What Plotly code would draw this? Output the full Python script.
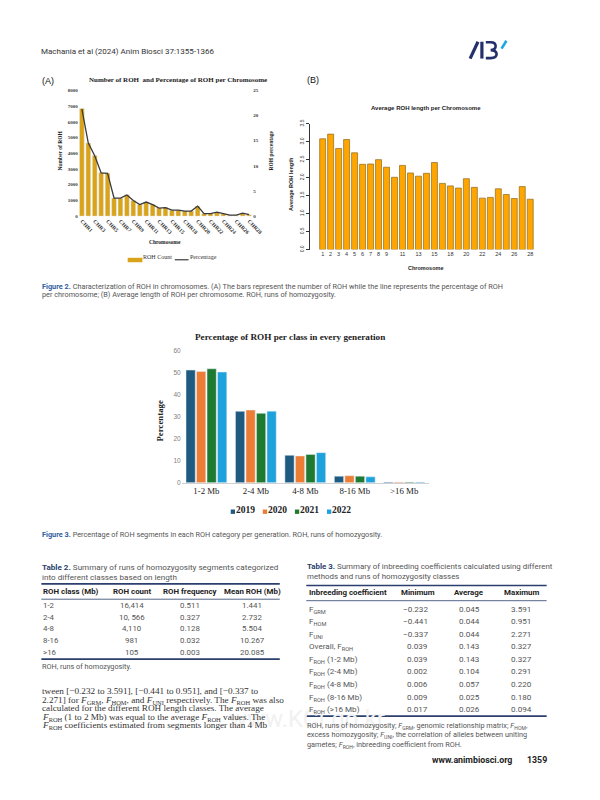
import plotly.graph_objects as go

# The page body has an 8px margin on every side: the figure is 584x784 so the page is exactly 600x800.
OFF = 8
FW, FH = 600 - 2 * OFF, 800 - 2 * OFF
def X(p): return (p - OFF) / FW
def Y(p): return 1 - (p - OFF) / FH

SERIF = "Liberation Serif"
SANS = "Liberation Sans"
PAGE = "Roboto"

# ---------------- data ----------------
CHROM = ["1", "2", "3", "4", "5", "6", "7", "8", "9", "10", "11", "12", "13", "14",
         "15", "16", "18", "19", "20", "21", "22", "23", "24", "25", "26", "27", "28"]
ROH_COUNT = [6850, 4655, 3850, 2780, 2735, 1150, 1150, 1360, 1000, 750, 900, 750, 520, 560,
             375, 375, 330, 330, 630, 170, 170, 250, 150, 60, 60, 180, 90]
ROH_PCT = [21.3, 14.5, 12.0, 8.6, 8.5, 3.6, 3.6, 4.2, 3.1, 2.3, 2.8, 2.3, 1.6, 1.7,
           1.2, 1.2, 1.0, 1.0, 2.0, 0.5, 0.5, 0.8, 0.5, 0.2, 0.2, 0.6, 0.3]
AVG_LEN = [3.08, 3.21, 2.81, 3.06, 2.69, 2.37, 2.38, 2.50, 2.29, 2.01, 2.34, 2.13, 2.04, 2.12,
           2.42, 1.84, 1.77, 1.71, 1.97, 1.73, 1.43, 1.45, 1.69, 1.53, 1.42, 1.75, 1.40]
A_TICKS = ["1", "3", "5", "7", "9", "11", "13", "15", "18", "20", "22", "24", "26", "28"]
B_TICKS = ["1", "2", "3", "4", "5", "6", "7", "8", "9", "11", "13", "15", "18", "20",
           "22", "24", "26", "28"]

CLASSES = ["1-2 Mb", "2-4 Mb", "4-8 Mb", "8-16 Mb", ">16 Mb"]
YEARS = ["2019", "2020", "2021", "2022"]
P2019 = [51.3, 32.5, 12.5, 3.0, 0.3]
P2020 = [50.7, 33.1, 12.2, 3.2, 0.3]
P2021 = [51.9, 31.6, 12.9, 3.0, 0.3]
P2022 = [50.4, 32.6, 13.7, 2.7, 0.3]
YEAR_COLORS = ["#1f5a80", "#ed7d35", "#1e7a30", "#1ea2dc"]

T2_HEAD = ["ROH class (Mb)", "ROH count", "ROH frequency", "Mean ROH (Mb)"]
T2_CLASS = ["1-2", "2-4", "4-8", "8-16", ">16"]
T2_COUNT = ["16,414", "10, 566", "4,110", "981", "105"]
T2_FREQ = [0.511, 0.327, 0.128, 0.032, 0.003]
T2_MEAN = [1.441, 2.732, 5.504, 10.267, 20.085]

T3_HEAD = ["Inbreeding coefficient", "Minimum", "Average", "Maximum"]
T3_LABEL = ["F<sub>GRM</sub>", "F<sub>HOM</sub>", "F<sub>UNI</sub>", "Overall, F<sub>ROH</sub>",
            "F<sub>ROH</sub> (1-2 Mb)", "F<sub>ROH</sub> (2-4 Mb)", "F<sub>ROH</sub> (4-8 Mb)",
            "F<sub>ROH</sub> (8-16 Mb)", "F<sub>ROH</sub> (>16 Mb)"]
T3_MIN = [-0.232, -0.441, -0.337, 0.039, 0.039, 0.002, 0.006, 0.009, 0.017]
T3_AVG = [0.045, 0.044, 0.044, 0.143, 0.143, 0.104, 0.057, 0.025, 0.026]
T3_MAX = [3.591, 0.951, 2.271, 0.327, 0.327, 0.291, 0.220, 0.180, 0.094]

# ---------------- traces ----------------
fig = go.Figure()
CHR_A = ["CHR" + c for c in CHROM]
GOLD = "#d9a31a"
fig.add_trace(go.Bar(x=CHR_A, y=ROH_COUNT, name="ROH Count", marker_color=GOLD,
                     xaxis="x", yaxis="y", showlegend=False))
fig.add_trace(go.Scatter(x=CHR_A, y=ROH_PCT, name="Percentage", mode="lines",
                         line=dict(color="#3a3a3a", width=1.3),
                         xaxis="x", yaxis="y2", showlegend=False))
fig.add_trace(go.Bar(x=CHROM, y=AVG_LEN, showlegend=False,
                     marker=dict(color="#ffa500", line=dict(color="#8c6a1e", width=0.7)),
                     xaxis="x2", yaxis="y3"))
for yr, vals, col in zip(YEARS, [P2019, P2020, P2021, P2022], YEAR_COLORS):
    fig.add_trace(go.Bar(x=CLASSES, y=vals, name=yr, marker_color=col,
                         xaxis="x3", yaxis="y4", showlegend=False))

# ---------------- annotations ----------------
ann = []
def txt(x, y, s, size, color="#333", family=PAGE, xa="left", angle=0, weight=None):
    f = dict(family=family, size=size, color=color)
    if weight:
        f["weight"] = weight
    y = y - 3 + 4 * y / 800  # small empirical correction of text placement
    if angle == 0:
        yy, ya = y - 0.62 * size, "top"
    else:
        yy, ya = y, "middle"
    ann.append(dict(x=X(x), y=Y(yy), xref="paper", yref="paper", text=s, showarrow=False,
                    xanchor=xa, yanchor=ya, textangle=angle, font=f, borderpad=0, borderwidth=0))

shapes = []
def rect(x0, y0, x1, y1, col):
    shapes.append(dict(type="rect", xref="paper", yref="paper", x0=X(x0), x1=X(x1),
                       y0=Y(y0), y1=Y(y1), fillcolor=col, line=dict(width=0)))
def seg(x0, y0, x1, y1, col, w):
    shapes.append(dict(type="line", xref="paper", yref="paper", x0=X(x0), y0=Y(y0),
                       x1=X(x1), y1=Y(y1), line=dict(color=col, width=w)))

# watermark
txt(233, 722, "www.KCI.go.kr", 24, color="#f1f1f1", family="Roboto")

# header
txt(42, 51, "Machania et al (2024) Anim Biosci 37:1355-1366", 8, "#333")

# panel A
txt(43, 81, "(A)", 9, "#111", SANS)
txt(181, 80, "Number of ROH  and Percentage of ROH per Chromosome", 7, "#222", SERIF, xa="center", weight="bold")
txt(60, 150, "Number of ROH", 5.5, "#222", SERIF, xa="center", angle=-90, weight="bold")
txt(276, 150, "ROH percentage", 5.5, "#222", SERIF, xa="center", angle=-90, weight="bold")
txt(168, 242, "Chromosome", 5.5, "#222", SERIF, xa="center", weight="bold")
# legend A
rect(130, 256, 145, 260.5, GOLD)
txt(146, 258, "ROH Count", 6, "#333", SERIF)
seg(178, 258, 192, 258, "#3a3a3a", 1.2)
txt(193, 258, "Percentage", 6, "#333", SERIF)

# panel B
txt(313, 80, "(B)", 9, "#111", SANS)
txt(434, 108, "Average ROH length per Chromosome", 6, "#222", SANS, xa="center", weight="bold")
txt(297, 184, "Average ROH length", 5.5, "#222", SANS, xa="center", angle=-90, weight="bold")
txt(434, 268, "Chromosome", 5.5, "#222", SANS, xa="center", weight="bold")

# caption fig 2
BLUE = "#2f5d9e"
GREY = "#555"
txt(43, 287, f"<b><span style='color:{BLUE}'>Figure 2.</span></b> Characterization of ROH in chromosomes. (A) The bars represent the number of ROH while the line represents the percentage of ROH", 7.3, GREY)
txt(43, 295, "per chromosome; (B) Average length of ROH per chromosome. ROH, runs of homozygosity.", 7.3, GREY)

# figure 3
txt(295, 338, "Percentage of ROH per class in every generation", 9.2, "#222", SERIF, xa="center", weight="bold")
txt(163, 422, "Percentage", 8.8, "#222", SERIF, xa="center", angle=-90, weight="bold")
for i, (yr, col) in enumerate(zip(YEARS, YEAR_COLORS)):
    x0 = 235 + 32.7 * i
    rect(x0, 510, x0 + 4.4, 514.4, col)
    txt(x0 + 5.5, 512, yr, 9.5, "#222", SERIF, weight="bold")
txt(43, 536, f"<b><span style='color:{BLUE}'>Figure 3.</span></b> Percentage of ROH segments in each ROH category per generation. ROH, runs of homozygosity.", 7.3, GREY)

# table 2
NAVY = "#2b3f6c"
txt(43, 568, f"<b><span style='color:{NAVY}'>Table 2.</span></b> Summary of runs of homozygosity segments categorized", 8.1, GREY)
txt(43, 578, "into different classes based on length", 8.1, GREY)
t2x = [(44, "left"), (134, "center"), (194, "center"), (257, "center")]
for (x, a), h in zip(t2x, T2_HEAD):
    txt(x, 593.5, h, 7.9, "#222", weight="bold", xa=a)
for i in range(len(T2_CLASS)):
    yy = 607.3 + 11.7 * i
    cells = [T2_CLASS[i], T2_COUNT[i], f"{T2_FREQ[i]:.3f}", f"{T2_MEAN[i]:.3f}"]
    for (x, a), c in zip(t2x, cells):
        txt(x, yy, c, 7.9, GREY, xa=a)
txt(43, 668, "ROH, runs of homozygosity.", 7.3, GREY)

# table 3
txt(313, 568, f"<b><span style='color:{NAVY}'>Table 3.</span></b> Summary of inbreeding coefficients calculated using different", 7.9, GREY)
txt(313, 578, "methods and runs of homozygosity classes", 7.9, GREY)
t3h = [(315, "left"), (426, "center"), (478, "center"), (531, "center")]
for (x, a), h in zip(t3h, T3_HEAD):
    txt(x, 594.3, h, 7.9, "#222", weight="bold", xa=a)
def fmt(v):
    return f"{v:.3f}".replace("-", "\u2212")
for i in range(len(T3_LABEL)):
    yy = 610 + 12.6 * i
    txt(315, yy, T3_LABEL[i], 8.1, GREY)
    txt(436, yy, fmt(T3_MIN[i]), 8.1, GREY, xa="right")
    txt(478, yy, fmt(T3_AVG[i]), 8.1, GREY, xa="center")
    txt(531, yy, fmt(T3_MAX[i]), 8.1, GREY, xa="center")
txt(313, 727, "ROH, runs of homozygosity; <i>F</i><sub>GRM</sub>, genomic relationship matrix; <i>F</i><sub>HOM</sub>,", 7.3, GREY)
txt(313, 736.5, "excess homozygosity; <i>F</i><sub>UNI</sub>, the correlation of alleles between uniting", 7.3, GREY)
txt(313, 746, "gametes; <i>F</i><sub>ROH</sub>, inbreeding coefficient from ROH.", 7.3, GREY)

# body text
BODY = ["tween [\u22120.232 to 3.591], [\u22120.441 to 0.951], and [\u22120.337 to",
        "2.271] for <i>F</i><sub>GRM</sub>, <i>F</i><sub>HOM</sub>, and <i>F</i><sub>UNI</sub> respectively. The <i>F</i><sub>ROH</sub> was also",
        "calculated for the different ROH length classes. The average",
        "<i>F</i><sub>ROH</sub> (1 to 2 Mb) was equal to the average <i>F</i><sub>ROH</sub> values. The",
        "<i>F</i><sub>ROH</sub> coefficients estimated from segments longer than 4 Mb"]
for i, line in enumerate(BODY):
    txt(43, 693.3 + 8.6 * i, line, 9.2, "#333", SERIF)

# footer
txt(440, 762, "www.animbiosci.org", 8.8, "#222", weight="bold")
txt(557, 762, "1359", 8.8, "#222", xa="right", weight="bold")

# table rules
def hline(x0, x1, y, w, col=NAVY):
    seg(x0, y, x1, y, col, w)
hline(42, 285, 585, 1.6)
hline(42, 285, 600.5, 0.8)
hline(42, 285, 661, 1.6)
hline(312, 557, 586.7, 1.6)
hline(312, 557, 602, 0.8)
hline(312, 557, 718.5, 1.6)

# logo
seg(479, 55, 487, 38, "#23306b", 3.2)
seg(491, 38, 491, 55, "#23306b", 3.2)
shapes.append(dict(type="path", xref="paper", yref="paper",
                   path=f"M {X(495)},{Y(38.5)} L {X(500)},{Y(38.5)} Q {X(505)},{Y(38.5)} {X(505)},{Y(42.5)} "
                        f"Q {X(505)},{Y(46)} {X(500)},{Y(46.5)} Q {X(506)},{Y(47)} {X(506)},{Y(50.5)} "
                        f"Q {X(506)},{Y(54.5)} {X(500)},{Y(54.5)} L {X(495)},{Y(54.5)}",
                   line=dict(color="#23306b", width=2.6)))
seg(511, 45, 516, 37, "#1aa9e0", 2.6)

# ---------------- layout ----------------
tickA = dict(family=SERIF, size=5.5, color="#333", weight="bold")
fig.update_layout(
    width=FW, height=FH, margin=dict(l=0, r=0, t=0, b=0),
    paper_bgcolor="white", plot_bgcolor="white",
    barmode="group", bargap=0.15, bargroupgap=0.12,
    annotations=ann, shapes=shapes, showlegend=False,
    xaxis=dict(domain=[X(80), X(257)], anchor="y", type="category", range=[-0.5, 26.5],
               tickmode="array", tickvals=["CHR" + t for t in A_TICKS], tickangle=45,
               tickfont=tickA, showgrid=False, zeroline=False, showline=False, ticks=""),
    yaxis=dict(domain=[Y(214), Y(87)], anchor="x", range=[0, 8000], dtick=1000,
               tickfont=dict(family=SERIF, size=5, color="#333", weight="bold"),
               showgrid=False, zeroline=False, showline=False, ticks=""),
    yaxis2=dict(overlaying="y", side="right", anchor="x", range=[0, 25], dtick=5,
                tickfont=dict(family=SERIF, size=5, color="#333", weight="bold"),
                showgrid=False, zeroline=False, showline=False, ticks=""),
    xaxis2=dict(domain=[X(316), X(548)], anchor="y3", type="category", range=[-1.56, 26.95],
                tickmode="array", tickvals=B_TICKS,
                tickfont=dict(family=SANS, size=5.5, color="#333"),
                showgrid=False, zeroline=False, showline=False, ticks=""),
    yaxis3=dict(domain=[Y(247.7), Y(120.7)], anchor="x2", range=[0, 3.5], dtick=0.5,
                tickformat=".1f", tickangle=-90, showline=True, linecolor="#333", linewidth=0.8,
                ticks="outside", ticklen=3, tickcolor="#333", tickwidth=0.8,
                tickfont=dict(family=SANS, size=5, color="#333"),
                showgrid=False, zeroline=False),
    xaxis3=dict(domain=[X(185), X(437)], anchor="y4", type="category",
                tickfont=dict(family=SERIF, size=8.8, color="#222"),
                showline=True, linecolor="#d0d0d0", linewidth=1, ticks="", showgrid=False),
    yaxis4=dict(domain=[Y(483), Y(350)], anchor="x3", range=[0, 60], dtick=10,
                tickfont=dict(family=SANS, size=6.5, color="#808080"),
                showgrid=False, zeroline=False, showline=False, ticks=""),
)

fig.write_html("out.html")
